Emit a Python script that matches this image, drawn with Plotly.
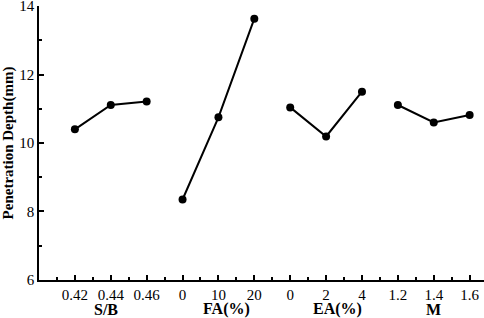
import plotly.graph_objects as go

groups = ["S/B", "FA(%)", "EA(%)", "M"]
tick_labels = ["0.42", "0.44", "0.46", "0", "10", "20", "0", "2", "4", "1.2", "1.4", "1.6"]
sb_vals = [10.40, 11.11, 11.21]
fa_vals = [8.35, 10.75, 13.63]
ea_vals = [11.04, 10.19, 11.50]
m_vals = [11.11, 10.60, 10.82]
group_label_pos = [1.86, 5.23, 8.31, 10.98]

series = [sb_vals, fa_vals, ea_vals, m_vals]
font_family = "Liberation Serif, Times New Roman, serif"

fig = go.Figure()
for gi, vals in enumerate(series):
    xs = [gi * 3 + i + 1 for i in range(len(vals))]
    fig.add_trace(go.Scatter(
        x=xs, y=vals, mode="lines+markers",
        line=dict(color="black", width=2),
        marker=dict(color="black", size=8),
        showlegend=False, cliponaxis=False,
    ))

for name, pos in zip(groups, group_label_pos):
    fig.add_annotation(
        x=pos, xref="x", y=0, yref="paper", yanchor="middle",
        yshift=-29, text=f"<b>{name}</b>", showarrow=False,
        font=dict(family=font_family, size=16, color="black"),
    )

fig.update_layout(
    width=484, height=318,
    margin=dict(l=39, r=0, t=5.5, b=38, autoexpand=False),
    plot_bgcolor="white", paper_bgcolor="white",
    font=dict(family=font_family, size=15, color="black"),
    xaxis=dict(
        range=[0, 12.4], tickmode="array", automargin=False,
        tickvals=list(range(1, 13)), ticktext=tick_labels,
        ticklabeloverflow="allow",
        showline=True, linecolor="black", linewidth=1.5,
        ticks="inside", ticklen=5, tickwidth=1.5, tickcolor="black",
        minor=dict(ticks="inside", ticklen=3, tickwidth=1.5, tickcolor="black",
                   tick0=0.5, dtick=1),
        showgrid=False, zeroline=False,
    ),
    yaxis=dict(
        range=[5.999, 14.001], tickmode="array", tickvals=[6, 8, 10, 12, 14],
        automargin=False, ticklabeloverflow="allow",
        showline=True, linecolor="black", linewidth=1.5,
        ticks="inside", ticklen=5, tickwidth=1.5, tickcolor="black",
        minor=dict(ticks="inside", ticklen=3, tickwidth=1.5, tickcolor="black",
                   tickvals=[7, 9, 11, 13]),
        showgrid=False, zeroline=False,
        title=dict(text="<b>Penetration Depth(mm)</b>",
                   font=dict(family=font_family, size=15), standoff=4),
    ),
)

fig.write_html("out.html", config={"displayModeBar": False},
               post_script="document.body.style.margin='0px';document.body.style.padding='0px';")
